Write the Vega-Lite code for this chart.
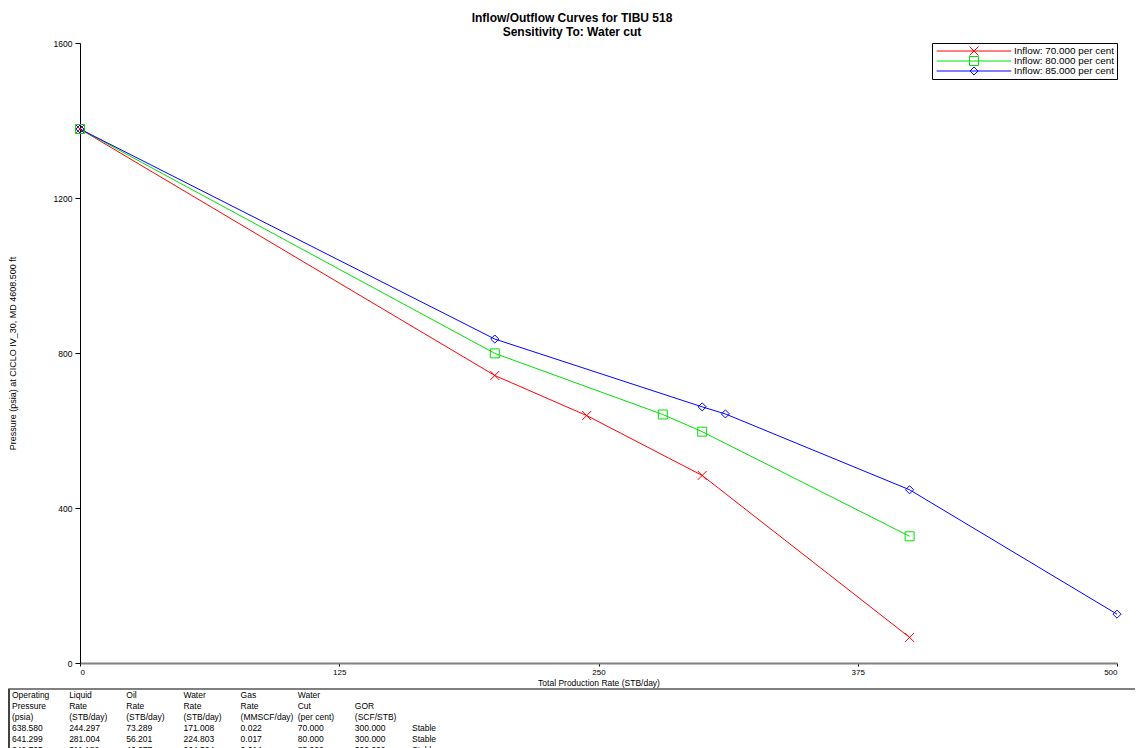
{
  "$schema": "https://vega.github.io/schema/vega-lite/v6.json",
  "padding": {"left": 7, "top": 12, "right": 0, "bottom": 0},
  "background": "white",
  "config": {
    "font": "Liberation Sans",
    "view": {"stroke": null},
    "axis": {"grid": false, "labelFont": "Liberation Sans", "titleFont": "Liberation Sans", "labelColor": "#000", "titleColor": "#000", "titleFontWeight": "normal"}
  },
  "title": {
    "text": ["Inflow/Outflow Curves for TIBU 518", "Sensitivity To: Water cut"],
    "fontSize": 12,
    "fontWeight": "bold",
    "font": "Liberation Sans",
    "lineHeight": 14,
    "anchor": "middle",
    "offset": 0,
    "color": "#000"
  },
  "spacing": 1,
  "vconcat": [
    {
      "width": 1037,
      "height": 620,
      "data": {"values": [
        {"series": "Inflow: 70.000 per cent", "rate": 0, "pressure": 1378},
        {"series": "Inflow: 70.000 per cent", "rate": 200, "pressure": 742},
        {"series": "Inflow: 70.000 per cent", "rate": 244.297, "pressure": 638.58},
        {"series": "Inflow: 70.000 per cent", "rate": 300, "pressure": 484},
        {"series": "Inflow: 70.000 per cent", "rate": 400, "pressure": 66},
        {"series": "Inflow: 80.000 per cent", "rate": 0, "pressure": 1378},
        {"series": "Inflow: 80.000 per cent", "rate": 200, "pressure": 799},
        {"series": "Inflow: 80.000 per cent", "rate": 281.004, "pressure": 641.299},
        {"series": "Inflow: 80.000 per cent", "rate": 300, "pressure": 597},
        {"series": "Inflow: 80.000 per cent", "rate": 400, "pressure": 327},
        {"series": "Inflow: 85.000 per cent", "rate": 0, "pressure": 1378},
        {"series": "Inflow: 85.000 per cent", "rate": 200, "pressure": 836},
        {"series": "Inflow: 85.000 per cent", "rate": 300, "pressure": 661},
        {"series": "Inflow: 85.000 per cent", "rate": 311.182, "pressure": 642.705},
        {"series": "Inflow: 85.000 per cent", "rate": 400, "pressure": 447},
        {"series": "Inflow: 85.000 per cent", "rate": 500, "pressure": 126}
      ]},
      "encoding": {
        "x": {"field": "rate", "type": "quantitative", "scale": {"domain": [0, 500], "nice": false},
          "axis": {"values": [0, 125, 250, 375, 500], "format": "d", "title": "Total Production Rate (STB/day)", "domainColor": "#808080", "domainWidth": 2, "tickColor": "#000", "tickSize": 3, "labelFontSize": 8, "labelPadding": 2, "titleFontSize": 8.5, "titlePadding": 2}},
        "y": {"field": "pressure", "type": "quantitative", "scale": {"domain": [0, 1600], "nice": false},
          "axis": {"values": [0, 400, 800, 1200, 1600], "format": "d", "title": "Pressure (psia) at CICLO IV_30, MD 4608.500 ft", "domainColor": "#000", "tickColor": "#000", "tickSize": 5, "labelFontSize": 8.5, "labelPadding": 3, "titleFontSize": 9, "titlePadding": 36}},
        "color": {"field": "series", "type": "nominal", "scale": {"range": ["#ff0000", "#00e000", "#0000ff"]},
          "legend": {
            "title": null, "orient": "none", "legendX": 852, "legendY": 0,
            "strokeColor": "#000", "padding": 3, "fillColor": "white",
            "labelFontSize": 9.9, "labelColor": "#000", "labelFont": "Liberation Sans",
            "symbolSize": 81, "symbolStrokeWidth": 1, "symbolOffset": 34, "labelOffset": 35, "rowPadding": 0, "clipHeight": 10,
            "encode": {"symbols": {"update": {"shape": {"signal": "indexof(datum.value, '70') >= 0 ? 'M-8.3,0L8.3,0M-1,-1L1,1M-1,1L1,-1' : indexof(datum.value, '80') >= 0 ? 'M-8.3,0L8.3,0M-1,-1L1,-1L1,1L-1,1Z' : 'M-8.3,0L8.3,0M-0.9,0L0,-0.9L0.9,0L0,0.9Z'"}, "fill": {"value": "transparent"}}}}
          }}
      },
      "layer": [
        {"mark": {"type": "line", "strokeWidth": 1}},
        {"mark": {"type": "point", "filled": false, "strokeWidth": 1, "size": 81, "opacity": 1},
          "encoding": {"shape": {"field": "series", "type": "nominal", "scale": {"range": ["M-1,-1L1,1M-1,1L1,-1", "square", "M-0.9,0L0,-0.9L0.9,0L0,0.9Z"]}, "legend": null}}}
      ]
    },
    {
      "width": 1055,
      "height": 61,
      "data": {"values": [
        {"row": 0, "col": 0, "t": "Operating"}, {"row": 0, "col": 1, "t": "Liquid"}, {"row": 0, "col": 2, "t": "Oil"}, {"row": 0, "col": 3, "t": "Water"}, {"row": 0, "col": 4, "t": "Gas"}, {"row": 0, "col": 5, "t": "Water"},
        {"row": 1, "col": 0, "t": "Pressure"}, {"row": 1, "col": 1, "t": "Rate"}, {"row": 1, "col": 2, "t": "Rate"}, {"row": 1, "col": 3, "t": "Rate"}, {"row": 1, "col": 4, "t": "Rate"}, {"row": 1, "col": 5, "t": "Cut"}, {"row": 1, "col": 6, "t": "GOR"},
        {"row": 2, "col": 0, "t": "(psia)"}, {"row": 2, "col": 1, "t": "(STB/day)"}, {"row": 2, "col": 2, "t": "(STB/day)"}, {"row": 2, "col": 3, "t": "(STB/day)"}, {"row": 2, "col": 4, "t": "(MMSCF/day)"}, {"row": 2, "col": 5, "t": "(per cent)"}, {"row": 2, "col": 6, "t": "(SCF/STB)"},
        {"row": 3, "col": 0, "t": "638.580"}, {"row": 3, "col": 1, "t": "244.297"}, {"row": 3, "col": 2, "t": "73.289"}, {"row": 3, "col": 3, "t": "171.008"}, {"row": 3, "col": 4, "t": "0.022"}, {"row": 3, "col": 5, "t": "70.000"}, {"row": 3, "col": 6, "t": "300.000"}, {"row": 3, "col": 7, "t": "Stable"},
        {"row": 4, "col": 0, "t": "641.299"}, {"row": 4, "col": 1, "t": "281.004"}, {"row": 4, "col": 2, "t": "56.201"}, {"row": 4, "col": 3, "t": "224.803"}, {"row": 4, "col": 4, "t": "0.017"}, {"row": 4, "col": 5, "t": "80.000"}, {"row": 4, "col": 6, "t": "300.000"}, {"row": 4, "col": 7, "t": "Stable"},
        {"row": 5, "col": 0, "t": "642.705"}, {"row": 5, "col": 1, "t": "311.182"}, {"row": 5, "col": 2, "t": "46.677"}, {"row": 5, "col": 3, "t": "264.504"}, {"row": 5, "col": 4, "t": "0.014"}, {"row": 5, "col": 5, "t": "85.000"}, {"row": 5, "col": 6, "t": "300.000"}, {"row": 5, "col": 7, "t": "Stable"}
      ]},
      "layer": [
        {
          "mark": {"type": "rule", "color": "#808080", "strokeWidth": 2},
          "encoding": {
            "x": {"datum": -0.053, "type": "quantitative", "scale": {"domain": [1.19, 19.653], "nice": false, "zero": false}, "axis": null},
            "x2": {"datum": 19.653},
            "y": {"datum": -0.545, "type": "quantitative", "scale": {"domain": [-0.545, 5], "reverse": true, "nice": false, "zero": false}, "axis": null}
          }
        },
        {
          "mark": {"type": "rule", "color": "#444", "strokeWidth": 1.2},
          "encoding": {
            "x": {"datum": -0.053, "type": "quantitative"},
            "y": {"datum": -0.545, "type": "quantitative"},
            "y2": {"datum": 5}
          }
        },
        {
          "mark": {"type": "text", "align": "left", "baseline": "middle", "fontSize": 8.5, "font": "Liberation Sans", "color": "#000", "clip": false},
          "encoding": {
            "x": {"field": "col", "type": "quantitative"},
            "y": {"field": "row", "type": "quantitative"},
            "text": {"field": "t"}
          }
        }
      ]
    }
  ]
}
